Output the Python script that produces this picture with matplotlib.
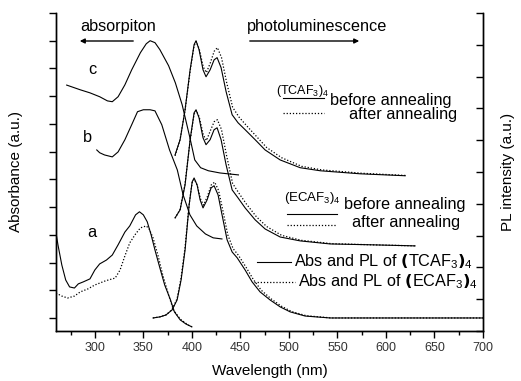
import matplotlib
matplotlib.use("Agg")
import matplotlib.pyplot as plt
from matplotlib.lines import Line2D

plt.rcParams['font.family'] = ['Liberation Sans', 'DejaVu Sans']
plt.rcParams['mathtext.fontset'] = 'custom'
plt.rcParams['mathtext.rm'] = 'Liberation Sans'

# ---- data (wavelength nm, arbitrary offset units) ----
# curve c : (TCAF3)4 film
c_abs_nm = [271, 285, 295, 305, 313, 318, 324, 331, 338, 347, 353, 357, 362, 367,
            376, 383, 390, 398, 403, 409, 417, 429, 448]
c_abs = [8.40, 8.23, 8.12, 7.98, 7.83, 7.80, 7.98, 8.41, 8.95, 9.57, 9.89, 10.0, 9.93,
         9.68, 9.10, 8.48, 7.69, 6.50, 5.70, 5.42, 5.31, 5.23, 5.16]
c_pl_nm = [382.7, 387.9, 393, 398.2, 402.3, 404.3, 407.4, 411.5, 414.6, 418.8, 422.9,
           426, 430.1, 435.3, 441.5, 447.6, 454.9, 465.2, 475.5, 491, 511.6, 532.2,
           573.4, 619.8]
c_pl_before = [5.88, 6.43, 7.51, 8.95, 9.86, 10.0, 9.68, 8.95, 8.70, 8.95, 9.31, 9.39,
               9.03, 8.16, 7.33, 7.04, 6.79, 6.43, 6.06, 5.70, 5.42, 5.31, 5.20, 5.13]
c_pl2_nm = [382.7, 387.9, 393, 398.2, 402.3, 404.5, 407.6, 411.8, 415, 419, 423,
            426.3, 430.5, 435.8, 442, 448.5, 456, 466.5, 477, 492.5, 513, 534, 575, 620]
c_pl_after = [5.85, 6.45, 7.50, 8.90, 9.82, 9.97, 9.70, 9.05, 8.85, 9.20, 9.62, 9.75,
              9.40, 8.50, 7.60, 7.25, 6.95, 6.55, 6.15, 5.78, 5.47, 5.34, 5.22, 5.14]

# curve b : (ECAF3)4 film
b_abs_nm = [302, 305, 310, 318, 324, 331, 338, 344, 350, 357, 362, 369, 377, 385, 391,
            398, 405, 414, 422, 431]
b_abs = [6.06, 5.96, 5.88, 5.81, 5.99, 6.43, 6.97, 7.44, 7.51, 7.51, 7.47, 6.97, 6.06,
         5.34, 4.44, 3.72, 3.32, 3.03, 2.89, 2.85]
b_pl_nm = [382.7, 387.9, 393, 398.2, 402.3, 404.3, 407.4, 411.5, 414.6, 418.8, 422.9,
           426, 430.1, 435.3, 441.5, 447.6, 454.9, 465.2, 475.5, 491, 511.6, 542.5,
           583.7, 630]
b_pl_before = [3.61, 3.90, 4.80, 6.43, 7.40, 7.51, 7.22, 6.50, 6.25, 6.43, 6.79, 6.86,
               6.43, 5.52, 4.62, 4.33, 3.97, 3.54, 3.21, 2.92, 2.78, 2.67, 2.64, 2.60]
b_pl2_nm = [382.7, 387.9, 393, 398.2, 402.3, 404.5, 407.6, 411.8, 415, 419, 423,
            426.3, 430.5, 435.8, 442, 448.5, 456, 466.5, 477, 492.5, 513, 544, 585, 630]
b_pl_after = [3.60, 3.92, 4.85, 6.40, 7.35, 7.48, 7.25, 6.60, 6.40, 6.75, 7.08, 7.15,
              6.80, 5.85, 4.85, 4.50, 4.12, 3.65, 3.30, 2.98, 2.80, 2.68, 2.64, 2.60]

# curve a : solutions, TCAF (solid) and ECAF (dotted)
a_abs_nm = [260, 262, 266, 270, 274, 279, 283, 288, 295, 300, 305, 312, 318, 324, 331,
            336, 342, 346, 350, 354, 358, 362, 367, 372, 378, 382, 388, 394, 400]
a_abs_t = [3.07, 2.64, 1.91, 1.37, 1.12, 1.08, 1.23, 1.30, 1.41, 1.73, 1.95, 2.09, 2.27,
           2.64, 3.10, 3.32, 3.72, 3.83, 3.72, 3.47, 3.00, 2.45, 1.81, 1.19, 0.65, 0.22,
           -0.07, -0.22, -0.32]
a_abs2_nm = [260, 266, 272, 279, 285, 293, 300, 311, 321, 326, 331, 336, 342, 347, 353,
             356, 360, 365, 370, 376, 381, 388, 396, 400]
a_abs_e = [0.90, 0.79, 0.72, 0.79, 0.94, 1.05, 1.19, 1.34, 1.44, 1.73, 2.24, 2.71, 3.03,
           3.25, 3.32, 3.21, 2.89, 2.27, 1.55, 0.83, 0.29, -0.04, -0.25, -0.32]
a_pl_nm = [360, 367.2, 373.4, 379.6, 384.8, 388.9, 393, 397.2, 400.3, 402.3, 405.4,
           408.5, 411.5, 415.7, 419.8, 422.9, 427, 431.1, 436.3, 441.5, 446.7, 454.9,
           462.1, 470.3, 480.6, 491, 501.3, 516.7, 542.5, 614.7, 700]
a_pl_t = [0, 0.04, 0.11, 0.29, 0.65, 1.37, 2.45, 4.08, 4.91, 5.05, 4.80, 4.26, 3.97,
          4.26, 4.69, 4.77, 4.44, 3.72, 2.82, 2.38, 2.17, 1.73, 1.30, 0.94, 0.65, 0.40,
          0.22, 0.07, 0, 0, 0]
a_pl2_nm = [360, 367.2, 373.4, 379.6, 384.8, 388.9, 393, 397.2, 400.3, 402.5, 405.6,
            408.8, 412, 416, 420, 423.5, 427.5, 431.8, 437, 442.5, 448, 456, 463.5,
            471.5, 482, 492.5, 503, 518, 544, 615, 700]
a_pl_e = [0, 0.04, 0.11, 0.30, 0.70, 1.45, 2.55, 4.10, 4.88, 5.00, 4.78, 4.30, 4.07,
          4.38, 4.80, 4.90, 4.60, 3.90, 3.00, 2.50, 2.26, 1.82, 1.38, 1.00, 0.68, 0.42,
          0.23, 0.08, 0, 0, 0]

W, H = 521, 381
def px(x, y):
    return x / W, 1 - y / H

fig = plt.figure(figsize=(W / 100, H / 100), dpi=100)
ax = fig.add_axes([56 / W, 50 / H, 427 / W, 318 / H])

solid = dict(color='black', lw=0.8)
dots = dict(color='black', lw=0.9, linestyle=(0, (1, 1.5)))

ax.plot(c_abs_nm, c_abs, **solid)
ax.plot(c_pl_nm, c_pl_before, **solid)
ax.plot(c_pl2_nm, c_pl_after, **dots)
ax.plot(b_abs_nm, b_abs, **solid)
ax.plot(b_pl_nm, b_pl_before, **solid)
ax.plot(b_pl2_nm, b_pl_after, **dots)
ax.plot(a_abs_nm, a_abs_t, **solid)
ax.plot(a_abs2_nm, a_abs_e, **dots)
ax.plot(a_pl_nm, a_pl_t, **solid)
ax.plot(a_pl2_nm, a_pl_e, **dots)

ax.set_xlim(260, 700)
ax.set_ylim(-0.47, 11)
ax.set_xticks(range(300, 701, 50))
ax.set_xticks(range(275, 700, 50), minor=True)
ax.set_yticks(range(12))
ax.set_yticklabels([])
ax.tick_params(axis='x', direction='out', length=5, width=1, labelsize=9,
               labelcolor='#333333', pad=3)
ax.tick_params(axis='x', which='minor', direction='out', length=3, width=1)
ax.tick_params(axis='y', direction='out', length=5, width=1)
ax.spines['top'].set_visible(False)

ax2 = ax.twinx()
ax2.set_ylim(0, 10)
ax2.set_yticks(range(11))
ax2.set_yticklabels([])
ax2.tick_params(axis='y', direction='in', length=5, width=1)
ax2.spines['top'].set_visible(False)
for a in (ax, ax2):
    for s in a.spines.values():
        s.set_linewidth(1)

fs = 11.7

# axis titles
fig.text(*px(16, 172), 'Absorbance (a.u.)', rotation=90, ha='center', va='center', fontsize=11)
fig.text(*px(508, 172), 'PL intensity (a.u.)', rotation=90, ha='center', va='center', fontsize=11)
fig.text(*px(270, 371), 'Wavelength (nm)', ha='center', va='center', fontsize=11)

# arrows on top
fig.text(*px(80, 27), 'absorpiton', ha='left', va='center', fontsize=fs)
ax.annotate('', xy=px(77, 41), xytext=px(136, 41), xycoords='figure fraction',
            textcoords='figure fraction',
            arrowprops=dict(arrowstyle='-|>', color='black', lw=1, mutation_scale=7))
fig.text(*px(247, 27), 'photoluminescence', ha='left', va='center', fontsize=fs)
ax.annotate('', xy=px(362, 41), xytext=px(247, 41), xycoords='figure fraction',
            textcoords='figure fraction',
            arrowprops=dict(arrowstyle='-|>', color='black', lw=1, mutation_scale=7))

# curve labels
fig.text(*px(92, 70), 'c', ha='center', va='center', fontsize=fs)
fig.text(*px(87, 138), 'b', ha='center', va='center', fontsize=fs)
fig.text(*px(92, 233), 'a', ha='center', va='center', fontsize=fs)

def seg(x1, x2, y, style):
    fig.add_artist(Line2D([x1 / W, x2 / W], [1 - y / H] * 2, transform=fig.transFigure, **style))

# (TCAF3)4 legend
fig.text(*px(303, 91), r'(TCAF$_3$)$_4$', ha='center', va='center', fontsize=9)
seg(283, 324, 98, solid)
seg(283, 324, 113, dots)
fig.text(*px(330, 100), 'before annealing', ha='left', va='center', fontsize=fs)
fig.text(*px(349, 115), 'after annealing', ha='left', va='center', fontsize=fs)

# (ECAF3)4 legend
fig.text(*px(312, 198), r'(ECAF$_3$)$_4$', ha='center', va='center', fontsize=9.5)
seg(287, 337, 214, solid)
seg(287, 337, 225, dots)
fig.text(*px(344, 205), 'before annealing', ha='left', va='center', fontsize=fs)
fig.text(*px(352, 223), 'after annealing', ha='left', va='center', fontsize=fs)

# a legend
seg(257, 291, 262, solid)
seg(254, 295, 282, dots)
fig.text(*px(294, 262), r'Abs and PL of $\mathbf{(}$TCAF$_3$$\mathbf{)}_4$', ha='left', va='center', fontsize=fs)
fig.text(*px(298, 282), r'Abs and PL of $\mathbf{(}$ECAF$_3$$\mathbf{)}_4$', ha='left', va='center', fontsize=fs)

fig.savefig('out.png', dpi=100)
